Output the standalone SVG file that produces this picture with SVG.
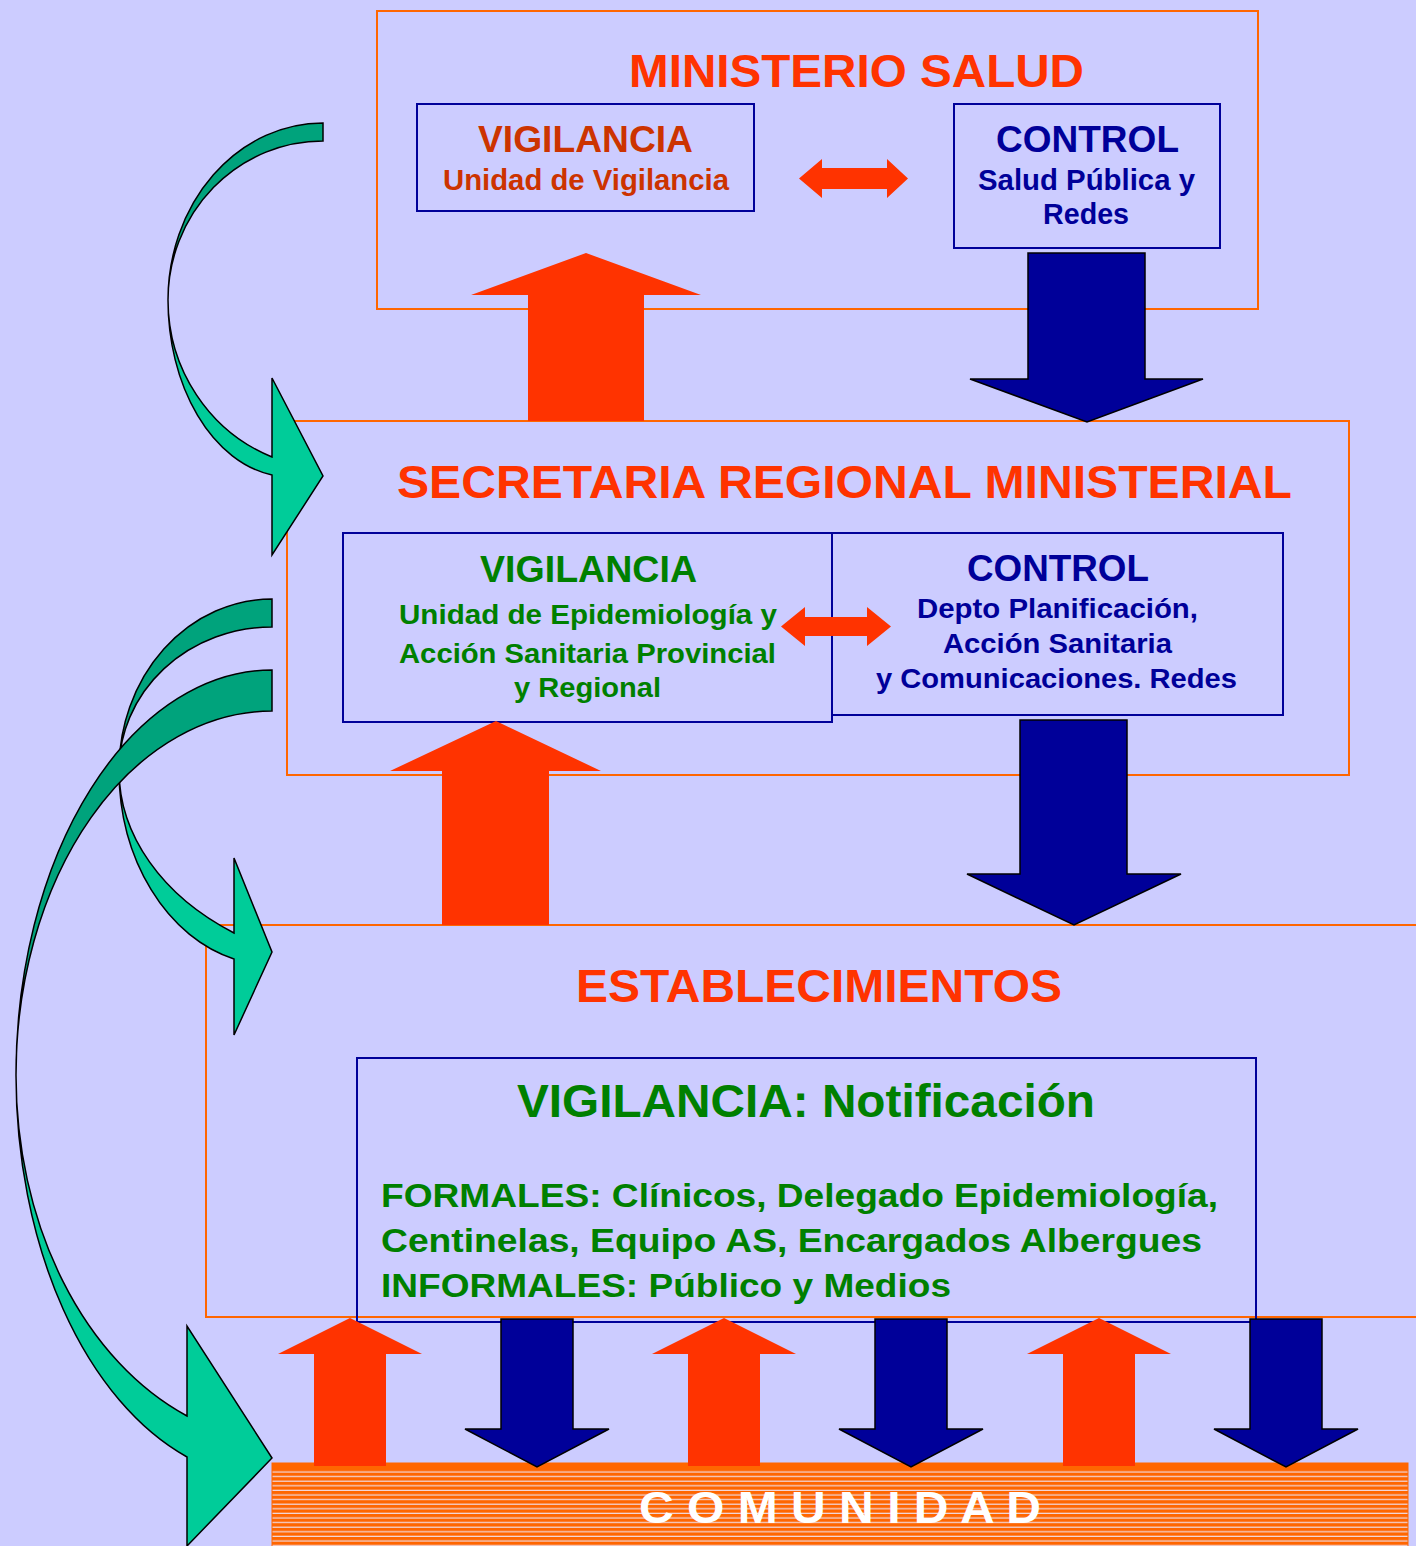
<svg xmlns="http://www.w3.org/2000/svg" width="1416" height="1546" viewBox="0 0 1416 1546">
<defs>
<style>
.bg{fill:#CCCCFF}
.obox{fill:none;stroke:#FF6600;stroke-width:2}
.bbox{fill:none;stroke:#000099;stroke-width:2}
.up{fill:#FF3300}
.down{fill:#000099;stroke:#000;stroke-width:1.5;stroke-linejoin:miter}
.dark{fill:#00A37C;stroke:#000;stroke-width:1.5}
.light{fill:#00CC99;stroke:#000;stroke-width:1.5}
text{font-family:"Liberation Sans",Arial,sans-serif;font-weight:bold}
.t{fill:#FF3300;font-size:47px}
.vr{fill:#CC3300}
.g{fill:#008000}
.b{fill:#000099}
.w{fill:#FFFFFF;font-size:44px}
</style>
<pattern id="stripes" patternUnits="userSpaceOnUse" x="0" y="1468" width="20" height="4.6">
<rect width="20" height="4.6" fill="#FF6600"/>
<rect y="3.4" width="20" height="1.1" fill="#F0E6F8"/>
</pattern>
</defs>
<rect class="bg" x="0" y="0" width="1416" height="1546"/>

<g id="ministerio">
<rect class="obox" x="377" y="11" width="881" height="298"/>
<text class="t" x="629" y="87" textLength="455" lengthAdjust="spacingAndGlyphs">MINISTERIO SALUD</text>
</g>
<g id="ms-vigilancia">
<rect class="bbox" x="417" y="104" width="337" height="107"/>
<text class="vr" x="478" y="152" font-size="36" textLength="215" lengthAdjust="spacingAndGlyphs">VIGILANCIA</text>
<text class="vr" x="443" y="190" font-size="29" textLength="286" lengthAdjust="spacingAndGlyphs">Unidad de Vigilancia</text>
</g>
<g id="ms-control">
<rect class="bbox" x="954" y="104" width="266" height="144"/>
<text class="b" x="996" y="152" font-size="37" textLength="183" lengthAdjust="spacingAndGlyphs">CONTROL</text>
<text class="b" x="978" y="190" font-size="29" textLength="217" lengthAdjust="spacingAndGlyphs">Salud Pública y</text>
<text class="b" x="1043" y="224" font-size="29" textLength="86" lengthAdjust="spacingAndGlyphs">Redes</text>
</g>

<g id="seremi">
<rect class="obox" x="287" y="421" width="1062" height="354"/>
<text class="t" x="397" y="498" textLength="895" lengthAdjust="spacingAndGlyphs">SECRETARIA REGIONAL MINISTERIAL</text>
</g>
<g id="seremi-vigilancia">
<rect class="bbox" x="343" y="533" width="489" height="189"/>
<text class="g" x="480" y="582" font-size="37" textLength="217" lengthAdjust="spacingAndGlyphs">VIGILANCIA</text>
<text class="g" x="399" y="624" font-size="28" textLength="378" lengthAdjust="spacingAndGlyphs">Unidad de Epidemiología y</text>
<text class="g" x="399" y="663" font-size="28" textLength="377" lengthAdjust="spacingAndGlyphs">Acción Sanitaria Provincial</text>
<text class="g" x="514" y="697" font-size="28" textLength="147" lengthAdjust="spacingAndGlyphs">y Regional</text>
</g>
<g id="seremi-control">
<rect class="bbox" x="832" y="533" width="451" height="182"/>
<text class="b" x="967" y="581" font-size="37" textLength="182" lengthAdjust="spacingAndGlyphs">CONTROL</text>
<text class="b" x="917" y="618" font-size="27" textLength="281" lengthAdjust="spacingAndGlyphs">Depto Planificación,</text>
<text class="b" x="943" y="653" font-size="27" textLength="229" lengthAdjust="spacingAndGlyphs">Acción Sanitaria</text>
<text class="b" x="876" y="688" font-size="27" textLength="361" lengthAdjust="spacingAndGlyphs">y Comunicaciones. Redes</text>
</g>

<g id="establecimientos">
<rect class="obox" x="206" y="925" width="1220" height="392"/>
<text class="t" x="576" y="1002" textLength="486" lengthAdjust="spacingAndGlyphs">ESTABLECIMIENTOS</text>
</g>
<g id="notificacion">
<rect class="bbox" x="357" y="1058" width="899" height="264"/>
<text class="g" x="517" y="1117" font-size="47" textLength="578" lengthAdjust="spacingAndGlyphs">VIGILANCIA: Notificación</text>
<text class="g" x="381" y="1207" font-size="34" textLength="837" lengthAdjust="spacingAndGlyphs">FORMALES: Clínicos, Delegado Epidemiología,</text>
<text class="g" x="381" y="1252" font-size="34" textLength="821" lengthAdjust="spacingAndGlyphs">Centinelas, Equipo AS, Encargados Albergues</text>
<text class="g" x="381" y="1297" font-size="34" textLength="570" lengthAdjust="spacingAndGlyphs">INFORMALES: Público y Medios</text>
</g>

<g id="comunidad">
<rect x="272" y="1463" width="1136" height="90" fill="url(#stripes)" stroke="#FF6600" stroke-width="1"/>
<rect x="272" y="1463" width="1136" height="5" fill="#FF6600"/>
<text class="w" x="639" y="1523" textLength="402" lengthAdjust="spacingAndGlyphs">C O M U N I D A D</text>
</g>

<g id="connectors">
<polygon class="up" points="799,178.5 822,159 822,168 887,168 887,159 908,178.5 887,198 887,189 822,189 822,198"/>
<polygon class="up" points="781,626.5 805,607 805,617 867,617 867,607 891,626.5 867,646 867,636 805,636 805,646"/>
<polygon class="up" points="586,253 701,295 644,295 644,421 528,421 528,295 471,295"/>
<polygon class="down" points="1028,253 1145,253 1145,379 1203,379 1087,422 970,379 1028,379"/>
<polygon class="up" points="496,721 601,771 549,771 549,925 442,925 442,771 390,771"/>
<polygon class="down" points="1020,720 1127,720 1127,874 1181,874 1074,925 967,874 1020,874"/>
<polygon class="up" points="350,1318 422,1354 386,1354 386,1466 314,1466 314,1354 278,1354"/>
<polygon class="up" points="724,1318 796,1354 760,1354 760,1466 688,1466 688,1354 652,1354"/>
<polygon class="up" points="1099,1318 1171,1354 1135,1354 1135,1466 1063,1466 1063,1354 1027,1354"/>
<polygon class="down" points="501,1319 573,1319 573,1429 609,1429 537,1467 465,1429 501,1429"/>
<polygon class="down" points="875,1319 947,1319 947,1429 983,1429 911,1467 839,1429 875,1429"/>
<polygon class="down" points="1250,1319 1322,1319 1322,1429 1358,1429 1286,1467 1214,1429 1250,1429"/>
<path class="dark" d="M323,123 A155,177 0 0 0 168,300 A155,159 0 0 1 323,141 Z"/>
<path class="light" d="M168,300 A122.4,177 0 0 0 272,475 L272,555 L323,476 L272,378 L272,457 A165,169 0 0 1 168,300 Z"/>
<path class="dark" d="M272,599 A153,171 0 0 0 119,770 A153,143 0 0 1 272,627 Z"/>
<path class="light" d="M119,770 A152.5,195 0 0 0 234,959 L234,1035 L272,952 L234,858 L234,933 A269,198.8 0 0 1 119,770 Z"/>
<path class="dark" d="M272,670 A256,405 0 0 0 16,1075 A256,364 0 0 1 272,711 Z"/>
<path class="light" d="M16,1075 A256,405 0 0 0 187,1457 L187,1546 L272,1458 L187,1326 L187,1416 A272,367 0 0 1 16,1075 Z"/>
</g>
</svg>
